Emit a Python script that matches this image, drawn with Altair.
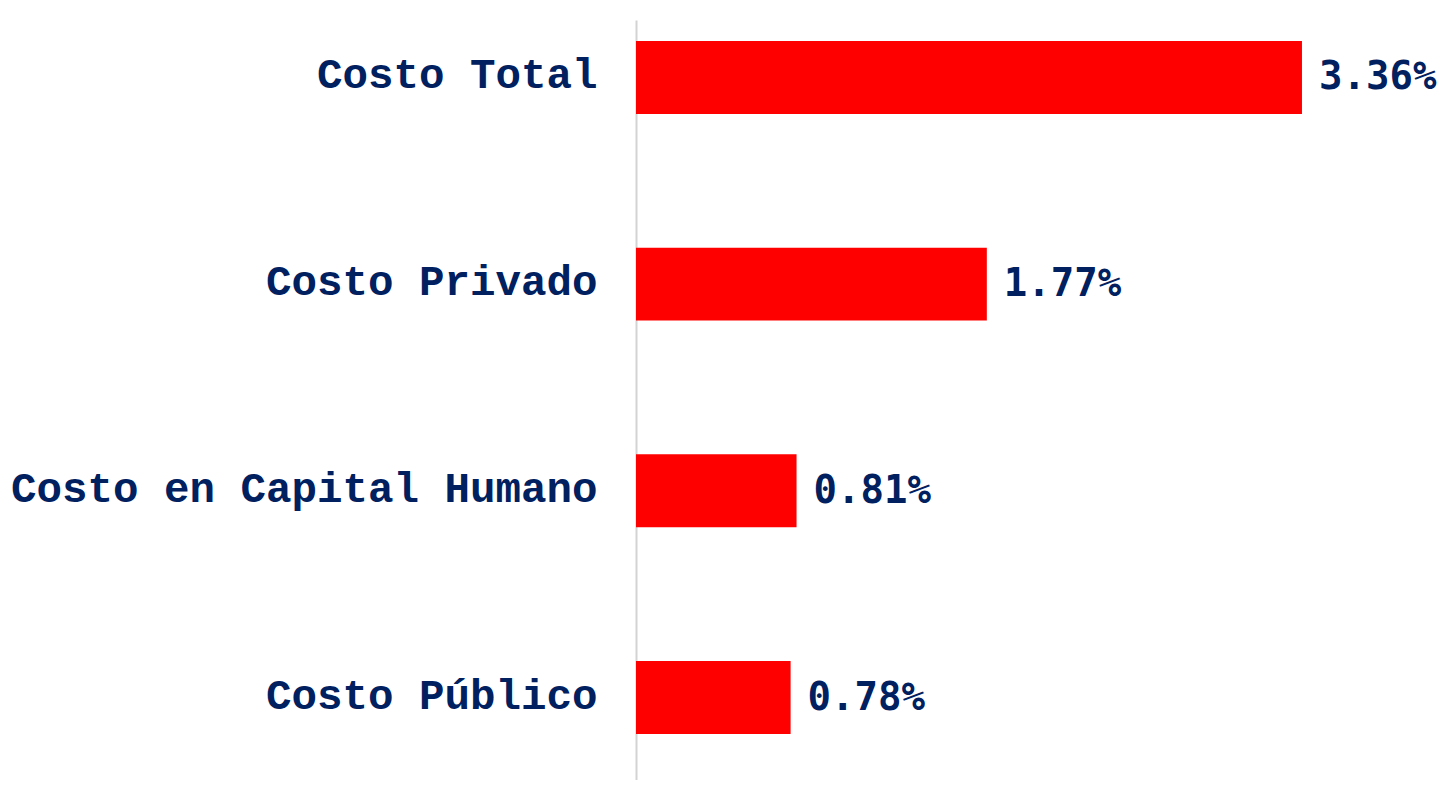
import altair as alt
import pandas as pd

categories = ["Costo Total", "Costo Privado", "Costo en Capital Humano", "Costo Público"]
values = [3.36, 1.77, 0.81, 0.78]
labels = ["3.36%", "1.77%", "0.81%", "0.78%"]

df = pd.DataFrame({"cat": categories, "val": values, "lab": labels})

y_enc = alt.Y(
    "cat:N",
    sort=categories,
    title=None,
    scale=alt.Scale(paddingInner=0.647, paddingOuter=0.162, align=0.313),
    axis=alt.Axis(
        labelFont="Courier New, Liberation Mono",
        labelFontWeight="bold",
        labelFontSize=42.5,
        labelColor="#002060",
        labelPadding=39,
        labelBaseline="middle",
        labelOffset=-2,
        ticks=False,
        domainColor="#d3d3d3",
        domainWidth=2,
        grid=False,
        labelLimit=0,
    ),
)
x_enc = alt.X("val:Q", scale=alt.Scale(domain=[0, 3.9], nice=False), axis=None)

bars = alt.Chart(df).mark_bar(color="#FF0000").encode(x=x_enc, y=y_enc)
text = alt.Chart(df).mark_text(
    align="left",
    baseline="middle",
    dx=17,
    dy=0,
    font="DejaVu Sans Mono",
    fontWeight="bold",
    fontSize=39,
    color="#002060",
).encode(x=x_enc, y=y_enc, text="lab:N")

chart = (
    alt.layer(bars, text)
    .properties(
        width=773,
        height=760,
        autosize=alt.AutoSizeParams(type="none"),
        padding={"left": 628, "top": 12, "right": 30, "bottom": 0},
        background="white",
    )
    .configure_view(stroke="transparent", strokeWidth=0)
)

chart.save("out.html", embed_options={"renderer": "svg", "actions": False})
